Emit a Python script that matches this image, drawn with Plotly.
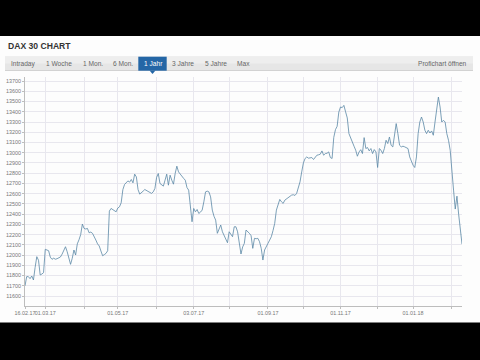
import plotly.graph_objects as go
import pandas as pd

# ---------------- data (DAX closes) ----------------
feb17 = [11700, 11790, 11790, 11770, 11796, 11757, 11880, 11985, 11950, 11806, 11815, 11829]
mar17 = [12057, 12050, 12043, 11980, 11959, 11970, 11960, 11965, 11975, 11982, 12010, 12040,
         12082, 12033, 11980, 11910, 11969, 12050, 12001, 12110, 12150, 12200, 12303]
apr17 = [12261, 12255, 12261, 12218, 12225, 12213, 12170, 12147, 12110, 12089, 12040, 11994,
         12005, 12017, 12043, 12430, 12456, 12446, 12438, 12423]
may17 = [12460, 12472, 12511, 12640, 12690, 12706, 12725, 12713, 12739, 12706, 12791, 12764,
         12640, 12596, 12615, 12625, 12641, 12630, 12618, 12610, 12603, 12618, 12651]
jun17 = [12760, 12797, 12700, 12690, 12674, 12732, 12791, 12683, 12781, 12732, 12693, 12797,
         12869, 12813, 12790, 12764, 12750, 12732, 12660, 12635, 12440, 12326]
jul17 = [12456, 12423, 12446, 12407, 12420, 12440, 12521, 12618, 12625, 12618, 12569, 12440,
         12380, 12342, 12213, 12261, 12294, 12228, 12190, 12164, 12121]
aug17 = [12228, 12200, 12180, 12277, 12277, 12228, 12115, 12011, 12080, 12115, 12245, 12230,
         12213, 12190, 12066, 12164, 12160, 12164, 12131, 12066, 11952, 12050, 12090]
sep17 = [12115, 12147, 12180, 12240, 12310, 12440, 12505, 12544, 12521, 12505, 12537, 12550,
         12563, 12576, 12586, 12590, 12583, 12603, 12651, 12716, 12813]
oct17 = [12901, 12944, 12959, 12947, 12953, 12953, 12934, 12959, 12976, 12980, 12986, 13018,
         12976, 12992, 12995, 13008, 12953, 12944, 13150, 13226, 13258, 13398]
nov17 = [13447, 13441, 13463, 13400, 13340, 13187, 13140, 13100, 13064, 13025, 12966, 13008,
         13030, 12992, 13148, 13041, 13051, 13018, 13041, 12992, 13031, 13008]
dec17 = [12856, 13041, 13025, 12992, 13041, 13122, 13090, 13154, 13073, 13057, 13154, 13285,
         13187, 13073, 13057, 13064, 13058, 13051, 13041, 12959, 12911]
jan18 = [12878, 12856, 12959, 13187, 13300, 13349, 13300, 13220, 13187, 13220, 13193, 13213,
         13171, 13300, 13431, 13544, 13447, 13300, 13317, 13300, 13187, 13122, 13025]
feb18 = [12780, 12635, 12450, 12576, 12400, 12230, 12108]

values = feb17 + mar17 + apr17 + may17 + jun17 + jul17 + aug17 + sep17 + oct17 + nov17 + dec17 + jan18 + feb18
first_day = "2017-02-13"
last_day = "2018-02-09"
dates = pd.bdate_range(first_day, last_day)  # trading-day calendar (weekdays)
assert len(dates) == len(values)

x_tick_dates = ["2017-02-13", "2017-03-01", "2017-04-03", "2017-05-01", "2017-06-01", "2017-07-03",
                "2017-08-01", "2017-09-01", "2017-10-02", "2017-11-01", "2017-12-01", "2018-01-01",
                "2018-02-01"]
x_tick_labels = ["16.02.17", "01.03.17", "", "01.05.17", "", "03.07.17", "", "01.09.17", "",
                 "01.11.17", "", "01.01.18", ""]
y_ticks = [11600, 11700, 11800, 11900, 12000, 12100, 12200, 12300, 12400, 12500, 12600,
           12700, 12800, 12900, 13000, 13100, 13200, 13300, 13400, 13500, 13600, 13700]
y_range = [11503, 13740]

title_text = "DAX 30 CHART"
tabs = ["Intraday", "1 Woche", "1 Mon.", "6 Mon.", "1 Jahr", "3 Jahre", "5 Jahre", "Max"]
active_tab = "1 Jahr"
right_link = "Profichart öffnen"

# ---------------- layout geometry (pixels) ----------------
W, H = 480, 360
ML, MR, MT, MB = 25, 18, 77, 54
PW, PH = W - ML - MR, H - MT - MB


def px(x):
    return (x - ML) / PW


def py(y):
    return (H - MB - y) / PH


FONT = "Arial, Liberation Sans, sans-serif"

fig = go.Figure()
fig.add_trace(go.Scatter(
    x=dates, y=values, mode="lines",
    line=dict(color="#5b88a6", width=0.8),
    hoverinfo="skip", showlegend=False,
))

shapes = []
# white content panel between black bars
shapes.append(dict(type="rect", xref="paper", yref="paper", layer="below",
                   x0=px(0), x1=px(480), y0=py(322.5), y1=py(36),
                   fillcolor="#fdfdfd", line=dict(width=0)))
# tab bar
shapes.append(dict(type="rect", xref="paper", yref="paper", layer="below",
                   x0=px(5), x1=px(473), y0=py(70.5), y1=py(56.5),
                   fillcolor="#e6e6e6", line=dict(width=0)))
shapes.append(dict(type="rect", xref="paper", yref="paper", layer="below",
                   x0=px(5), x1=px(473), y0=py(63.5), y1=py(56.5),
                   fillcolor="#eeeeee", line=dict(width=0)))
shapes.append(dict(type="line", xref="paper", yref="paper", layer="below",
                   x0=px(5), x1=px(473), y0=py(70.5), y1=py(70.5),
                   line=dict(color="#d2d2d2", width=1)))
# active tab
shapes.append(dict(type="rect", xref="paper", yref="paper", layer="above",
                   x0=px(138.3), x1=px(166.7), y0=py(70.7), y1=py(56.7),
                   fillcolor="#2466a6", line=dict(width=0)))
shapes.append(dict(type="path", xref="paper", yref="paper", layer="above",
                   path="M {a},{b} L {c},{b} L {d},{e} Z".format(
                       a=px(149.5), c=px(155.5), b=py(70.5), d=px(152.5), e=py(74)),
                   fillcolor="#2466a6", line=dict(width=0)))

annotations = []
annotations.append(dict(text="<b>" + title_text + "</b>", xref="paper", yref="paper",
                        x=px(5.5), y=py(45.7), xanchor="left", yanchor="middle",
                        showarrow=False, font=dict(family=FONT, size=8.6, color="#333333")))
tab_centers = [23, 59, 93, 122.7, 153, 183, 215.7, 243]
for name, cx in zip(tabs, tab_centers):
    annotations.append(dict(text=name, xref="paper", yref="paper",
                            x=px(cx), y=py(63.7), xanchor="center", yanchor="middle",
                            showarrow=False,
                            font=dict(family=FONT, size=6.6,
                                      color="#ffffff" if name == active_tab else "#666666")))
annotations.append(dict(text=right_link, xref="paper", yref="paper",
                        x=px(469.5), y=py(63.7), xanchor="right", yanchor="middle",
                        showarrow=False, font=dict(family=FONT, size=6.6, color="#666666")))

fig.update_layout(
    width=W, height=H,
    margin=dict(l=ML, r=MR, t=MT, b=MB, pad=0),
    paper_bgcolor="#000000",
    plot_bgcolor="#fdfdfd",
    template="none",
    showlegend=False,
    shapes=shapes,
    annotations=annotations,
    xaxis=dict(
        type="date",
        range=[first_day, last_day],
        rangebreaks=[dict(bounds=["sat", "mon"])],
        tickmode="array", tickvals=x_tick_dates, ticktext=x_tick_labels,
        tickangle=0,
        showgrid=True, gridcolor="#e8e7ee", gridwidth=1,
        showline=True, linecolor="#bdbdbd", linewidth=1,
        ticks="outside", ticklen=2, tickcolor="#bdbdbd",
        tickfont=dict(family=FONT, size=5.4, color="#777777"),
        zeroline=False, automargin=False, fixedrange=True,
    ),
    yaxis=dict(
        range=y_range,
        tickmode="array", tickvals=y_ticks, ticktext=[str(v) for v in y_ticks],
        showgrid=True, gridcolor="#e8e7ee", gridwidth=1,
        showline=True, linecolor="#bdbdbd", linewidth=1,
        ticks="outside", ticklen=2, tickcolor="#bdbdbd",
        tickfont=dict(family=FONT, size=5.4, color="#777777"),
        zeroline=False, automargin=False, fixedrange=True,
    ),
)

fig.write_html("out.html", config={"displayModeBar": False})
